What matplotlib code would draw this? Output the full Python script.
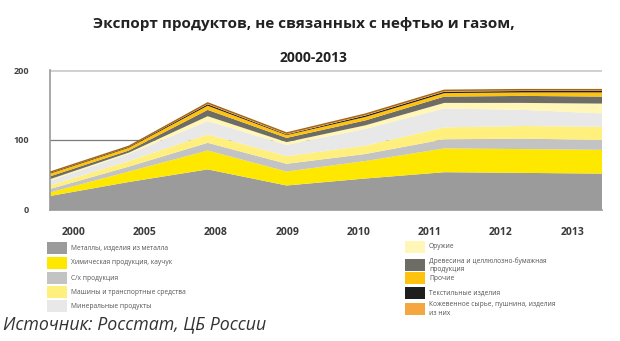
import numpy as np
import matplotlib
import matplotlib.pyplot as plt
from matplotlib.patches import Rectangle
matplotlib.use('Agg')

plt.rcParams['font.family'] = ['Open Sans', 'DejaVu Sans']

years = ['2000', '2005', '2008', '2009', '2010', '2011', '2012', '2013']

# экспорт по группам товаров, млрд долл.
metals = [20, 40, 58, 35, 45, 54, 53, 52]
chemicals = [5, 15, 27, 20, 25, 34, 34, 34]
agro = [5, 7, 11, 11, 10, 13, 15, 14]
machinery = [5, 8, 12, 11, 12, 17, 18, 19]
minerals = [7, 10, 19, 16, 24, 27, 23, 19]
weapons = [2, 2, 7, 4, 5, 8, 10, 14]
wood = [4, 3, 9, 6, 7, 9, 10, 10]
other = [4, 4, 6, 4, 5, 5, 5, 6]
textile = [1, 1, 2, 1, 2, 2, 2, 2]
leather = [1, 1, 2, 2, 2, 2, 2, 2]

names = [
    'Металлы, изделия из металла',
    'Химическая продукция, каучук',
    'С/х продукция',
    'Машины и транспортные средства',
    'Минеральные продукты',
    'Оружие',
    'Древесина и целлюлозно-бумажная\nпродукция',
    'Прочие',
    'Текстильные изделия',
    'Кожевенное сырье, пушнина, изделия\nиз них',
]
colors = [
    '#9b9b9b', '#ffe800', '#c3c3c3', '#fff07e', '#e8e8e8',
    '#fff6b8', '#6d6d66', '#ffc20e', '#1e1e1e', '#f4a640',
]

fig = plt.figure(figsize=(6.2, 3.41), dpi=100)
ax = fig.add_axes([0.0806, 0.3842, 0.8904, 0.4105])

x = np.arange(len(years))
ax.set_axisbelow(True)
ax.yaxis.grid(True, color='#7a7a7a', linewidth=0.9)
ax.stackplot(
    x, metals, chemicals, agro, machinery, minerals, weapons, wood,
    other, textile, leather, colors=colors, linewidth=0, zorder=2
)
total = np.sum([metals, chemicals, agro, machinery, minerals, weapons,
                wood, other, textile, leather], axis=0)
ax.plot(x, total, color='#a0661a', linewidth=1.0, zorder=3)

ax.set_xlim(0, len(years) - 1)
ax.set_ylim(0, 200)
ax.set_yticks([0, 100, 200])
ax.set_yticklabels(['0', '100', '200'], fontsize=6.5, fontweight='bold',
                   color='#444444')
ax.set_xticks(np.linspace(0.3, 6.62, len(years)))
ax.set_xticklabels(years, fontsize=7.5, fontweight='bold', color='#3a3a3a')
ax.tick_params(length=0, pad=12)
ax.tick_params(axis='y', pad=15)
for side in ['top', 'right']:
    ax.spines[side].set_visible(False)
for side in ['left', 'bottom']:
    ax.spines[side].set_color('#9a9a9a')
    ax.spines[side].set_linewidth(1.2)
ax.axhline(200, color='#cfcfcf', linewidth=2, zorder=1)

fig.text(0.49, 0.93, 'Экспорт продуктов, не связанных с нефтью и газом,',
         ha='center', va='center', fontsize=11, fontweight='bold',
         color='#222222')
fig.text(0.505, 0.83, '2000-2013', ha='center', va='center', fontsize=10,
         fontweight='bold', color='#222222')

# легенда в две колонки
left_rows = [248, 263, 278, 292, 306]
right_rows = [247, 265, 278, 293, 309]
W, H = 620, 341
for i, (name, col) in enumerate(zip(names, colors)):
    if i < 5:
        sx, cy = 47, left_rows[i]
    else:
        sx, cy = 405, right_rows[i - 5]
    fig.add_artist(Rectangle((sx / W, 1 - (cy + 6) / H), 20 / W, 12 / H,
                             transform=fig.transFigure, color=col,
                             linewidth=0))
    fig.text((sx + 24) / W, 1 - cy / H, name, ha='left', va='center',
             fontsize=4.8, color='#555555', linespacing=1.3)

fig.text(3 / W, 1 - 324 / H, 'Источник: Росстат, ЦБ России', ha='left',
         va='center', fontsize=12.8, style='italic', color='#333333')

fig.savefig('out.png', dpi=100)
